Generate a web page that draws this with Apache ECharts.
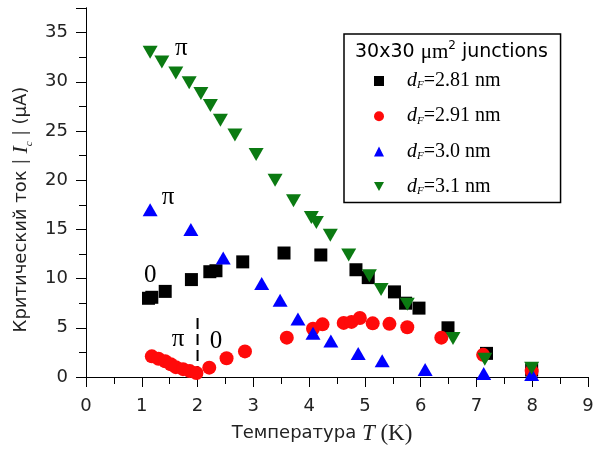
<!DOCTYPE html>
<html><head><meta charset="utf-8">
<script src="https://cdn.jsdelivr.net/npm/echarts@6/dist/echarts.min.js"></script>
<style>html,body{margin:0;padding:0;background:#fff}#c{width:601px;height:450px}</style>
</head><body><div id="c"></div>
<script>
// ---- data ----
const T_281 = [1.12, 1.18, 1.42, 1.89, 2.22, 2.33, 2.81, 3.55, 4.21, 4.84, 5.06, 5.53, 5.73, 5.97, 6.49, 7.18, 7.99];
const I_281 = [8.0, 8.1, 8.7, 9.9, 10.7, 10.8, 11.7, 12.6, 12.4, 10.9, 10.1, 8.65, 7.5, 7.0, 5.0, 2.4, 0.7];
const T_291 = [1.18, 1.30, 1.42, 1.52, 1.61, 1.74, 1.86, 1.98, 2.21, 2.52, 2.85, 3.60, 4.07, 4.24, 4.62, 4.76, 4.91, 5.14, 5.44, 5.76, 6.37, 7.12, 7.99];
const I_291 = [2.1, 1.85, 1.6, 1.3, 1.0, 0.8, 0.6, 0.4, 0.95, 1.9, 2.6, 4.0, 4.9, 5.35, 5.5, 5.6, 6.0, 5.45, 5.4, 5.05, 4.0, 2.25, 0.6];
const T_30 = [1.15, 1.88, 2.46, 3.15, 3.48, 3.80, 4.07, 4.39, 4.88, 5.31, 6.08, 7.13, 7.99];
const I_30 = [17.0, 15.0, 12.1, 9.5, 7.8, 5.9, 4.45, 3.65, 2.4, 1.65, 0.75, 0.35, 0.25];
const T_31 = [1.15, 1.36, 1.61, 1.85, 2.06, 2.23, 2.41, 2.67, 3.05, 3.39, 3.72, 4.04, 4.13, 4.38, 4.71, 5.08, 5.29, 5.76, 6.58, 7.15, 7.99];
const I_31 = [33.0, 32.0, 30.9, 29.9, 28.8, 27.6, 26.1, 24.6, 22.6, 20.0, 17.9, 16.2, 15.7, 14.4, 12.4, 10.3, 8.9, 7.4, 3.9, 1.8, 0.9];
const seriesNames = ['dF=2.81 nm', 'dF=2.91 nm', 'dF=3.0 nm', 'dF=3.1 nm'];
const dashT = [2, 2];
const dashI = [0, 6.5];
const annText = ['π', 'π', '0', 'π', '0'];
const annT = [1.71, 1.47, 1.15, 1.65, 2.33];
const annI = [33.4, 18.2, 10.3, 3.8, 3.6];
const xTicks = [0, 1, 2, 3, 4, 5, 6, 7, 8, 9];
const yTicks = [0, 5, 10, 15, 20, 25, 30, 35];

const zip = (a, b) => a.map((v, i) => [v, b[i]]);
const SANS = 'DejaVu Sans';
const SERIF = 'Liberation Serif';
const downTri = 'path://M0,0 L10,0 L5,9 Z';

const chart = echarts.init(document.getElementById('c'), null, {renderer: 'canvas'});

const commonScatter = {type: 'scatter', z: 3};
const option = {
  backgroundColor: '#fff',
  animation: false,
  title: {
    text: '{a|30x30 }{m|μm}{s|2}{a| junctions}',
    left: 355, top: 40, padding: 0,
    textStyle: {
      fontWeight: 'normal',
      rich: {
        a: {fontFamily: SANS, fontSize: 19, fontWeight: 'normal', color: '#000', lineHeight: 24},
        m: {fontFamily: SERIF, fontSize: 21, fontWeight: 'normal', color: '#000', lineHeight: 24},
        s: {fontFamily: SANS, fontSize: 12, fontWeight: 'normal', color: '#000', verticalAlign: 'top', lineHeight: 24}
      }
    }
  },
  legend: {
    data: seriesNames,
    orient: 'vertical',
    left: 344, top: 34,
    padding: [35, 60, 6, 30],
    borderColor: '#000', borderWidth: 1.5,
    itemWidth: 10, itemHeight: 10,
    itemGap: 13.2, itemTextGap: 5,
    formatter: function (name) {
      const val = name.split('=')[1];
      return '{d|d}{f|F}{t|=' + val + '}';
    },
    textStyle: {
      rich: {
        d: {fontFamily: SERIF, fontStyle: 'italic', fontSize: 20, color: '#000', lineHeight: 20, padding: [0, 0, 0, 18]},
        f: {fontFamily: SERIF, fontStyle: 'italic', fontSize: 11, color: '#000', verticalAlign: 'bottom', lineHeight: 20, padding: [11, 0, 0, 0]},
        t: {fontFamily: SERIF, fontSize: 20, color: '#000', lineHeight: 20}
      }
    }
  },
  grid: {left: 86, right: 13, top: 8, bottom: 71, containLabel: false},
  xAxis: [{
    type: 'value', min: 0, max: 9, interval: 1,
    position: 'bottom',
    axisLine: {show: true, lineStyle: {color: '#000', width: 1}},
    axisTick: {show: true, inside: false, length: 10, lineStyle: {color: '#000'}},
    minorTick: {show: true, splitNumber: 2, length: 5, lineStyle: {color: '#000'}},
    splitLine: {show: false},
    axisLabel: {margin: 20, fontFamily: SANS, fontSize: 18, color: '#222',
      formatter: v => xTicks.includes(v) ? String(v) : ''},
    name: '{a|Температура }{t|T}{b| (K)}',
    nameLocation: 'middle', nameGap: 45,
    nameTextStyle: {
      padding: [0, 30, 0, 0],
      rich: {
        a: {fontFamily: SANS, fontSize: 18, color: '#222'},
        t: {fontFamily: SERIF, fontStyle: 'italic', fontSize: 23, color: '#222'},
        b: {fontFamily: SERIF, fontSize: 23, color: '#222'}
      }
    }
  }, {
    type: 'value', min: 0, max: 9, interval: 1,
    position: 'top',
    axisLine: {show: true, lineStyle: {color: '#000', width: 1}},
    axisTick: {show: true, inside: true, length: 7, lineStyle: {color: '#000'}},
    minorTick: {show: true, splitNumber: 2, length: 7, lineStyle: {color: '#000'}},
    splitLine: {show: false},
    axisLabel: {show: false}
  }],
  yAxis: [{
    type: 'value', min: 0, max: 37.5, interval: 5,
    position: 'left',
    axisLine: {show: true, lineStyle: {color: '#000', width: 1}},
    axisTick: {show: true, inside: false, length: 10, lineStyle: {color: '#000'}},
    minorTick: {show: true, splitNumber: 2, length: 5, lineStyle: {color: '#000'}},
    splitLine: {show: false},
    axisLabel: {margin: 18, fontFamily: SANS, fontSize: 18, color: '#222',
      formatter: v => yTicks.includes(v) ? String(v) : ''},
    name: '{a|Критический ток }{p|| }{i|I}{c|c}{p| |}{a| (μA)}',
    nameLocation: 'middle', nameGap: 50,
    nameTextStyle: {
      padding: [0, 34, 0, 0],
      rich: {
        a: {fontFamily: SANS, fontSize: 18, color: '#222', lineHeight: 26},
        p: {fontFamily: SANS, fontSize: 17, color: '#444', lineHeight: 26},
        i: {fontFamily: SERIF, fontStyle: 'italic', fontSize: 22, color: '#222', lineHeight: 26},
        c: {fontFamily: SERIF, fontStyle: 'italic', fontSize: 11, color: '#222', verticalAlign: 'bottom', lineHeight: 26}
      }
    }
  }, {
    type: 'value', min: 0, max: 37.5, interval: 5,
    position: 'right',
    axisLine: {show: true, lineStyle: {color: '#000', width: 1}},
    axisTick: {show: true, inside: true, length: 7, lineStyle: {color: '#000'}},
    minorTick: {show: true, splitNumber: 2, length: 7, lineStyle: {color: '#000'}},
    splitLine: {show: false},
    axisLabel: {show: false}
  }],
  series: [
    Object.assign({}, commonScatter, {name: seriesNames[0], symbol: 'rect', symbolSize: 13,
      itemStyle: {color: '#000000', opacity: 1}, data: zip(T_281, I_281)}),
    Object.assign({}, commonScatter, {name: seriesNames[1], symbol: 'circle', symbolSize: 14,
      itemStyle: {color: '#ff0a0a', opacity: 1}, data: zip(T_291, I_291)}),
    Object.assign({}, commonScatter, {name: seriesNames[2], symbol: 'triangle', symbolSize: [15, 13],
      itemStyle: {color: '#0000ff', opacity: 1}, data: zip(T_30, I_30)}),
    Object.assign({}, commonScatter, {name: seriesNames[3], symbol: downTri, symbolSize: [15, 13],
      itemStyle: {color: '#0b7a12', opacity: 1}, data: zip(T_31, I_31)}),
    {type: 'line', name: 'dash', data: zip(dashT, dashI), symbol: 'none', z: 2,
      lineStyle: {color: '#000', width: 2, type: [11, 5]}},
    {type: 'scatter', name: 'ann', symbolSize: 2, itemStyle: {color: 'rgba(0,0,0,0)', opacity: 1}, z: 4,
      data: annT.map((t, i) => ({value: [t, annI[i]], label: {formatter: annText[i]}})),
      label: {show: true, position: 'inside', fontFamily: SERIF, fontSize: 25, color: '#000'}}
  ]
};
chart.setOption(option);
</script>
</body></html>
